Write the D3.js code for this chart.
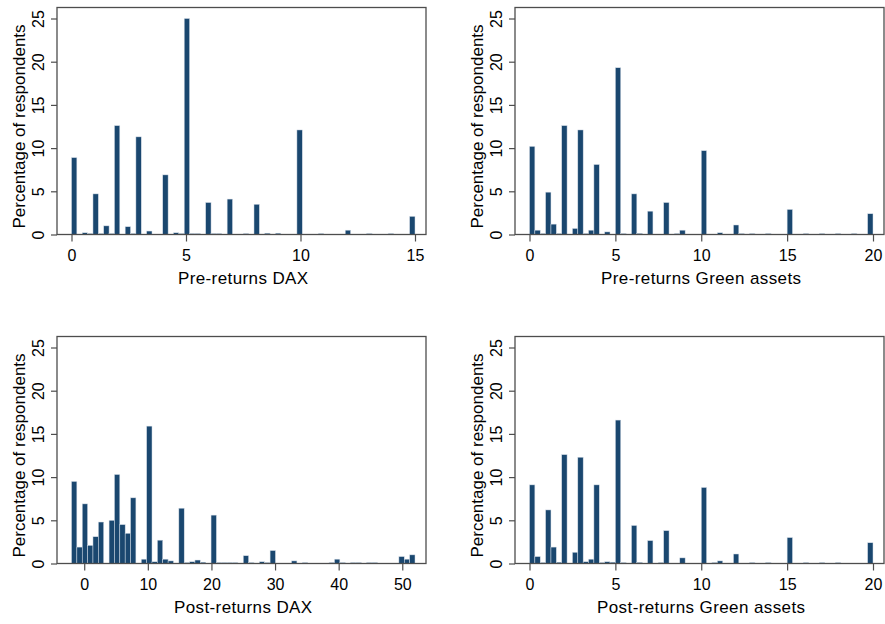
<!DOCTYPE html>
<html>
<head>
<meta charset="utf-8">
<script src="https://cdn.jsdelivr.net/npm/d3@7"></script>
<style>
  body { margin: 0; background: #fff; }
  text { font-family: "Liberation Sans", Arial, sans-serif; fill: #000; }
</style>
</head>
<body>
<div id="chart"></div>
<script>
// Percent of respondents per answer (64 bins each)
var preDaxValues = [0, 0.5, 0.75, 1, 1.25, 1.5, 1.75, 2, 2.5, 2.75, 3, 3.5, 4, 4.5, 4.75, 5, 5.25, 5.5, 6, 6.25, 6.5, 7, 7.5, 8, 8.5, 9, 10, 11, 12, 13, 14, 15];
var preDaxPct    = [8.9, 0.2, 0.1, 4.7, 0.1, 1.0, 0.1, 12.6, 0.9, 0.1, 11.3, 0.4, 6.9, 0.2, 0.1, 25.0, 0.1, 0.1, 3.7, 0.1, 0.1, 4.1, 0.1, 3.5, 0.15, 0.15, 12.1, 0.1, 0.5, 0.1, 0.1, 2.1];

var preGreenValues = [0, 0.5, 0.75, 1, 1.5, 1.75, 2, 2.5, 3, 3.25, 3.5, 4, 4.5, 5, 5.5, 6, 6.25, 6.5, 7, 8, 8.5, 9, 10, 11, 12, 12.25, 13, 14, 15, 16, 17, 18, 19, 20];
var preGreenPct    = [10.2, 0.5, 0.1, 4.9, 1.2, 0.1, 12.6, 0.7, 12.1, 0.1, 0.5, 8.1, 0.3, 19.3, 0.1, 4.7, 0.1, 0.1, 2.7, 3.7, 0.1, 0.5, 9.7, 0.2, 1.1, 0.1, 0.1, 0.1, 2.9, 0.1, 0.1, 0.1, 0.1, 2.4];

var postDaxValues = [-2, -1, 0, 1, 2, 3, 4, 5, 6, 7, 8, 9, 10, 11, 12, 13, 14, 15, 16, 17, 18, 19, 20, 21, 22, 23, 24, 25, 26, 28, 29, 30, 33, 35, 39, 40, 41, 42, 43, 45, 46, 50, 51, 52];
var postDaxPct    = [9.5, 1.9, 6.9, 2.1, 3.1, 4.8, 5.0, 10.3, 4.5, 3.5, 7.6, 0.5, 15.9, 0.2, 2.7, 0.5, 0.3, 6.4, 0.1, 0.2, 0.4, 0.15, 5.6, 0.1, 0.1, 0.1, 0.1, 0.9, 0.1, 0.2, 0.1, 1.5, 0.3, 0.1, 0.1, 0.5, 0.1, 0.1, 0.1, 0.1, 0.1, 0.8, 0.5, 1.0];

var postGreenValues = [0, 0.5, 0.75, 1, 1.5, 1.75, 2, 2.5, 3, 3.25, 3.5, 4, 4.25, 4.5, 4.75, 5, 5.5, 6, 6.25, 6.5, 7, 7.5, 8, 9, 10, 10.75, 11, 12, 13, 14, 15, 16, 17, 18, 20];
var postGreenPct    = [9.1, 0.8, 0.1, 6.2, 1.9, 0.15, 12.6, 1.3, 12.3, 0.2, 0.5, 9.1, 0.1, 0.2, 0.15, 16.6, 0.1, 4.4, 0.1, 0.1, 2.65, 0.1, 3.8, 0.65, 8.8, 0.1, 0.3, 1.1, 0.1, 0.1, 3.0, 0.1, 0.1, 0.1, 2.4];

var preDaxTicks = [0, 5, 10, 15];
var greenTicks = [0, 5, 10, 15, 20];
var postDaxTicks = [0, 10, 20, 30, 40, 50];
var yTicks = [0, 5, 10, 15, 20, 25];

var binCount = 64;
var barColor = "#1a476f";

var panels = [
  { values: preDaxValues, pct: preDaxPct, lo: 0, hi: 15, ticks: preDaxTicks, title: "Pre-returns DAX", left: 57, top: 7.5 },
  { values: preGreenValues, pct: preGreenPct, lo: 0, hi: 20, ticks: greenTicks, title: "Pre-returns Green assets", left: 515, top: 7.5 },
  { values: postDaxValues, pct: postDaxPct, lo: -2, hi: 52, ticks: postDaxTicks, title: "Post-returns DAX", left: 57, top: 336.5 },
  { values: postGreenValues, pct: postGreenPct, lo: 0, hi: 20, ticks: greenTicks, title: "Post-returns Green assets", left: 515, top: 336.5 }
];

var plotW = 369, plotH = 227;
var padL = 14.5, padR = 11, padTop = 11;

var svg = d3.select("#chart")
  .append("svg")
    .attr("width", 885)
    .attr("height", 624);

panels.forEach(function(p) {
  var g = svg.append("g").attr("transform", "translate(" + p.left + "," + p.top + ")");

  var x = d3.scaleLinear().domain([p.lo, p.hi]).range([padL, plotW - padR]);
  var y = d3.scaleLinear().domain([0, 25]).range([plotH, padTop]);
  var w = (p.hi - p.lo) / binCount;

  // put each answer in its bin
  var bars = p.values.map(function(v, i) {
    var b = Math.min(binCount - 1, Math.floor((v - p.lo) / w + 1e-9));
    return { x0: p.lo + b * w, x1: p.lo + (b + 1) * w, pct: p.pct[i] };
  });

  g.selectAll("rect.bar")
    .data(bars)
    .enter()
    .append("rect")
    .attr("class", "bar")
    .attr("x", function(d) { return x(d.x0); })
    .attr("width", function(d) { return x(d.x1) - x(d.x0); })
    .attr("y", function(d) { return y(d.pct); })
    .attr("height", function(d) { return Math.max(1, y(0) - y(d.pct)); })
    .attr("fill", barColor)
    .attr("stroke", "#d5dee8")
    .attr("stroke-width", 0.5);

  // frame
  g.append("rect")
    .attr("x", 0).attr("y", 0)
    .attr("width", plotW).attr("height", plotH)
    .attr("fill", "none")
    .attr("stroke", "#4d4d4d")
    .attr("stroke-width", 1.3);

  // x axis
  var xAxis = g.append("g")
    .attr("transform", "translate(0," + plotH + ")")
    .call(d3.axisBottom(x).tickValues(p.ticks).tickSize(7).tickPadding(8).tickFormat(d3.format("d")));
  xAxis.select(".domain").remove();
  xAxis.selectAll("line").attr("stroke", "#4d4d4d").attr("stroke-width", 1.2);
  xAxis.selectAll("text").attr("font-size", 16).attr("fill", "#000");

  // y axis
  var yAxis = g.append("g")
    .call(d3.axisLeft(y).tickValues(yTicks).tickSize(6).tickFormat(d3.format("d")));
  yAxis.select(".domain").remove();
  yAxis.selectAll("line").attr("stroke", "#4d4d4d").attr("stroke-width", 1.2);
  yAxis.selectAll("text")
    .attr("font-size", 16)
    .attr("fill", "#000")
    .attr("text-anchor", "middle")
    .attr("x", null)
    .attr("dy", null)
    .attr("transform", "translate(-13.5,0) rotate(-90)");

  // titles
  g.append("text")
    .attr("x", (padL + plotW - padR) / 2)
    .attr("y", plotH + 49.5)
    .attr("text-anchor", "middle")
    .attr("font-size", 17)
    .attr("letter-spacing", 0.4)
    .text(p.title);

  g.append("text")
    .attr("transform", "translate(-32," + (plotH + padTop) / 2 + ") rotate(-90)")
    .attr("text-anchor", "middle")
    .attr("font-size", 17)
    .text("Percentage of respondents");
});
</script>
</body>
</html>
